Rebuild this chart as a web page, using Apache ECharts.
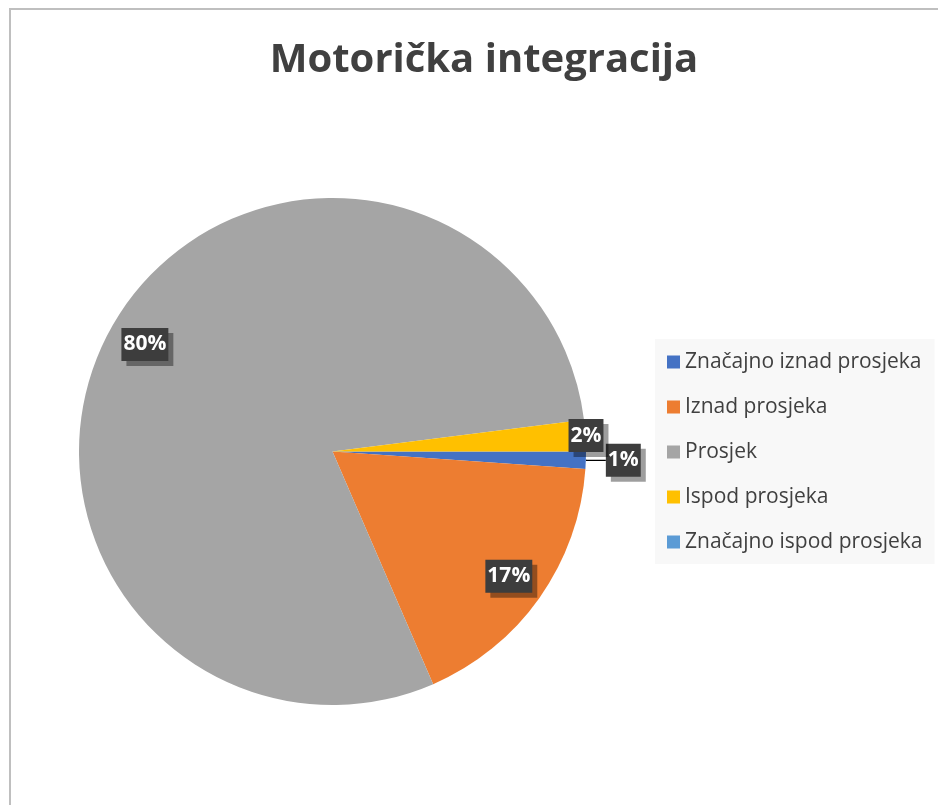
<!DOCTYPE html>
<html>
<head>
<meta charset="utf-8">
<script src="https://cdn.jsdelivr.net/npm/echarts@6/dist/echarts.min.js"></script>
<style>
  html, body { margin: 0; padding: 0; background: #fff; }
  #chart { width: 938px; height: 805px; }
</style>
</head>
<body>
<div id="chart"></div>
<script>
// chart data
const titleText = "Motorička integracija";
const categories = [
  "Značajno iznad prosjeka",
  "Iznad prosjeka",
  "Prosjek",
  "Ispod prosjeka",
  "Značajno ispod prosjeka",
];
const shares = [1.1, 17.4, 79.5, 2.0, 0];
const colors = ["#4472C4", "#ED7D31", "#A5A5A5", "#FFC000", "#5B9BD5"];

const center = [332.5, 451.5];
const R = 253.5;
const font = "'Open Sans', 'Noto Sans', sans-serif";

const labelBox = {
  color: "#fff",
  fontFamily: font,
  fontWeight: "bold",
  fontSize: 21,
  lineHeight: 25,
  backgroundColor: "#3d3d3d",
  padding: [4, 2, 4, 2],
  shadowColor: "rgba(0,0,0,0.38)",
  shadowOffsetX: 5,
  shadowOffsetY: 5,
  shadowBlur: 0,
  formatter: (p) => Math.round(p.percent) + "%",
};

// overlay ring only used to place labels at a given radius
function labelRing(name, radius, shown) {
  return {
    name: name,
    type: "pie",
    silent: true,
    center: center,
    radius: radius,
    startAngle: 0,
    clockwise: true,
    avoidLabelOverlap: false,
    itemStyle: { color: "transparent", borderWidth: 0 },
    label: Object.assign({ position: "inside" }, labelBox),
    labelLine: { show: false },
    data: categories.map((c, i) => ({
      name: c,
      value: shares[i],
      label: { show: shown.includes(i) },
    })),
  };
}

const chart = echarts.init(document.getElementById("chart"));
chart.setOption({
  animation: false,
  title: {
    text: titleText,
    left: 479,
    top: 36,
    textAlign: "center",
    textStyle: {
      fontFamily: font,
      fontWeight: "bold",
      fontSize: 40,
      color: "#404040",
    },
  },
  graphic: [
    {
      type: "rect",
      shape: { x: 10, y: 9, width: 940, height: 820 },
      style: { fill: "none", stroke: "#bfbfbf", lineWidth: 2 },
      silent: true,
    },
  ],
  legend: {
    orient: "vertical",
    left: 655,
    top: 339,
    padding: [11, 12, 10, 12],
    backgroundColor: "#f8f8f8",
    icon: "rect",
    itemWidth: 13,
    itemHeight: 13,
    itemGap: 21,
    selectedMode: false,
    textStyle: {
      fontFamily: font,
      fontSize: 21,
      lineHeight: 24,
      color: "#404040",
    },
    data: categories.map((c, i) => ({ name: c, itemStyle: { color: colors[i] } })),
  },
  series: [
    {
      name: "main",
      type: "pie",
      center: center,
      radius: R,
      startAngle: 0,
      clockwise: true,
      avoidLabelOverlap: false,
      itemStyle: { borderWidth: 0 },
      label: Object.assign({ position: "outside", distanceToLabelLine: 0 }, labelBox),
      labelLine: {
        length: 1,
        length2: 19,
        smooth: false,
        lineStyle: { color: "#000", width: 1.3 },
      },
      data: categories.map((c, i) => ({
        name: c,
        value: shares[i],
        itemStyle: { color: colors[i] },
        label: { show: i === 0 },
        labelLine: { show: i === 0 },
      })),
    },
    labelRing("inner labels", [172.5, R], [1, 2]),
    labelRing("edge labels", [246, 256], [3]),
  ],
});
</script>
</body>
</html>
